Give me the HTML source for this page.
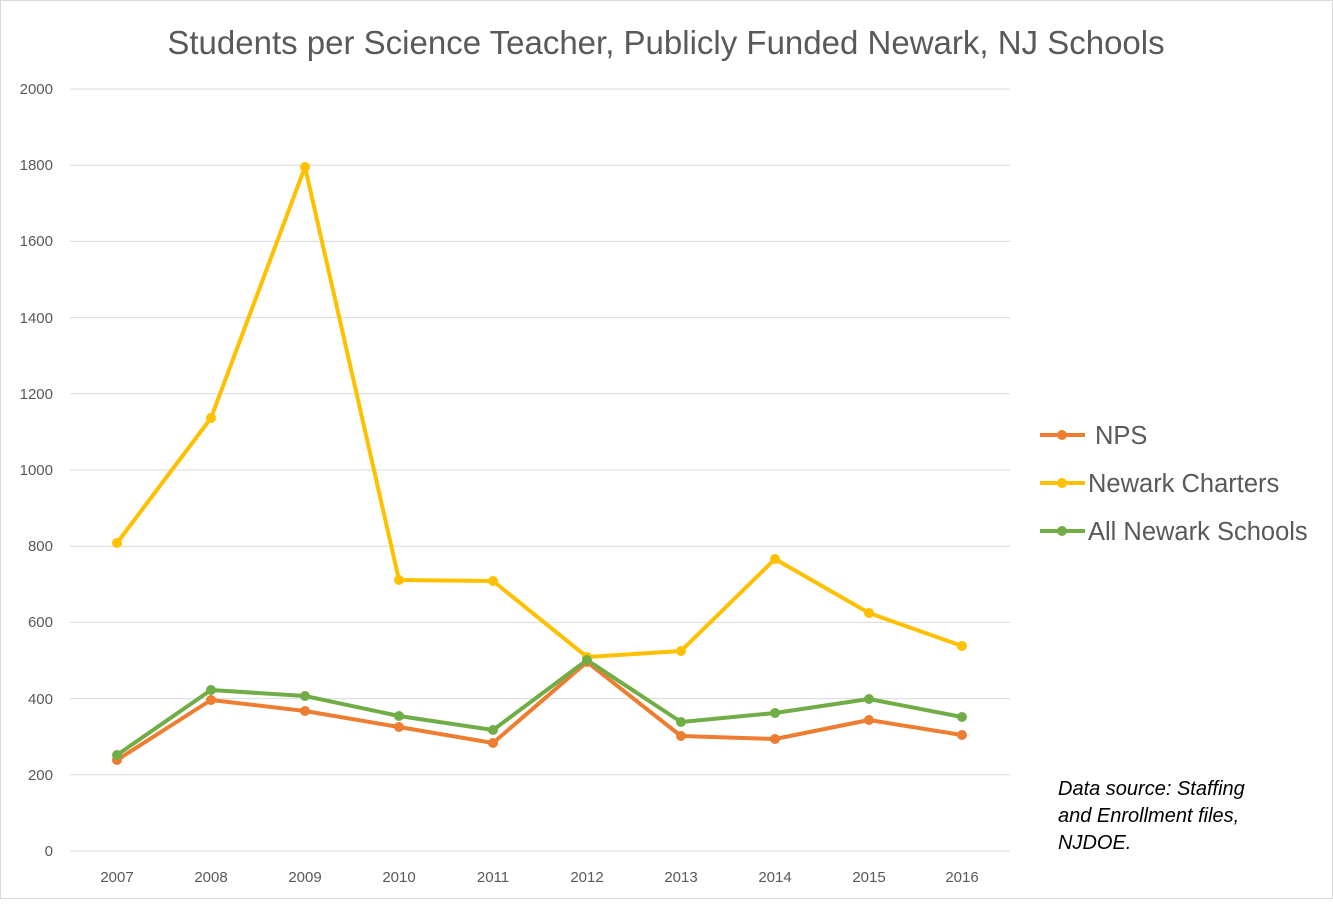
<!DOCTYPE html>
<html><head><meta charset="utf-8"><style>
body{margin:0;background:#fff;}
text{font-family:"Liberation Sans",sans-serif;}
</style></head><body>
<svg width="1333" height="899" xmlns="http://www.w3.org/2000/svg">
<rect x="0.5" y="0.5" width="1332" height="898" fill="#fff" stroke="#d9d9d9"/>
<text x="666" y="54" font-size="33" fill="#595959" text-anchor="middle">Students per Science Teacher, Publicly Funded Newark, NJ Schools</text>
<g stroke="#d9d9d9" stroke-width="1">
<line x1="70" x2="1010" y1="89" y2="89"/><line x1="70" x2="1010" y1="165.2" y2="165.2"/>
<line x1="70" x2="1010" y1="241.4" y2="241.4"/><line x1="70" x2="1010" y1="317.6" y2="317.6"/>
<line x1="70" x2="1010" y1="393.8" y2="393.8"/><line x1="70" x2="1010" y1="470" y2="470"/>
<line x1="70" x2="1010" y1="546.2" y2="546.2"/><line x1="70" x2="1010" y1="622.4" y2="622.4"/>
<line x1="70" x2="1010" y1="698.6" y2="698.6"/><line x1="70" x2="1010" y1="774.8" y2="774.8"/>
<line x1="70" x2="1010" y1="851" y2="851"/>
</g>
<g font-size="15" fill="#595959" text-anchor="end">
<text x="53" y="94">2000</text><text x="53" y="170">1800</text><text x="53" y="246">1600</text>
<text x="53" y="323">1400</text><text x="53" y="399">1200</text><text x="53" y="475">1000</text>
<text x="53" y="551">800</text><text x="53" y="627">600</text><text x="53" y="704">400</text>
<text x="53" y="780">200</text><text x="53" y="856">0</text>
</g>
<g font-size="15" fill="#595959" text-anchor="middle">
<text x="117" y="882">2007</text><text x="211" y="882">2008</text><text x="305" y="882">2009</text>
<text x="399" y="882">2010</text><text x="493" y="882">2011</text><text x="587" y="882">2012</text>
<text x="681" y="882">2013</text><text x="775" y="882">2014</text><text x="869" y="882">2015</text>
<text x="962" y="882">2016</text>
</g>
<g fill="none" stroke-width="4" stroke-linejoin="round">
<polyline stroke="#ed7d31" points="117,760 211,700 305,711 399,727 493,743 587,662 681,736 775,739 869,720 962,735"/>
<polyline stroke="#ffc000" points="117,543 211,418 305,167 399,580 493,581 587,657 681,651 775,559 869,613 962,646"/>
<polyline stroke="#70ad47" points="117,755 211,690 305,696 399,716 493,730 587,660 681,722 775,713 869,699 962,717"/>
</g>
<g fill="#ed7d31"><circle cx="117" cy="760" r="5"/><circle cx="211" cy="700" r="5"/><circle cx="305" cy="711" r="5"/><circle cx="399" cy="727" r="5"/><circle cx="493" cy="743" r="5"/><circle cx="587" cy="662" r="5"/><circle cx="681" cy="736" r="5"/><circle cx="775" cy="739" r="5"/><circle cx="869" cy="720" r="5"/><circle cx="962" cy="735" r="5"/></g>
<g fill="#ffc000"><circle cx="117" cy="543" r="5"/><circle cx="211" cy="418" r="5"/><circle cx="305" cy="167" r="5"/><circle cx="399" cy="580" r="5"/><circle cx="493" cy="581" r="5"/><circle cx="587" cy="657" r="5"/><circle cx="681" cy="651" r="5"/><circle cx="775" cy="559" r="5"/><circle cx="869" cy="613" r="5"/><circle cx="962" cy="646" r="5"/></g>
<g fill="#70ad47"><circle cx="117" cy="755" r="5"/><circle cx="211" cy="690" r="5"/><circle cx="305" cy="696" r="5"/><circle cx="399" cy="716" r="5"/><circle cx="493" cy="730" r="5"/><circle cx="587" cy="660" r="5"/><circle cx="681" cy="722" r="5"/><circle cx="775" cy="713" r="5"/><circle cx="869" cy="699" r="5"/><circle cx="962" cy="717" r="5"/></g>
<g stroke-width="4">
<line x1="1040" x2="1085" y1="435" y2="435" stroke="#ed7d31"/><circle cx="1062" cy="435" r="5" fill="#ed7d31"/>
<line x1="1040" x2="1085" y1="483" y2="483" stroke="#ffc000"/><circle cx="1062" cy="483" r="5" fill="#ffc000"/>
<line x1="1040" x2="1085" y1="531" y2="531" stroke="#70ad47"/><circle cx="1062" cy="531" r="5" fill="#70ad47"/>
</g>
<g font-size="25.5" fill="#595959">
<text x="1095" y="444">NPS</text><text x="1088" y="492">Newark Charters</text><text x="1088" y="540">All Newark Schools</text>
</g>
<g font-size="20" fill="#000" font-style="italic">
<text x="1058" y="795">Data source: Staffing</text><text x="1058" y="822">and Enrollment  files,</text><text x="1058" y="849">NJDOE.</text>
</g>
</svg>
</body></html>
